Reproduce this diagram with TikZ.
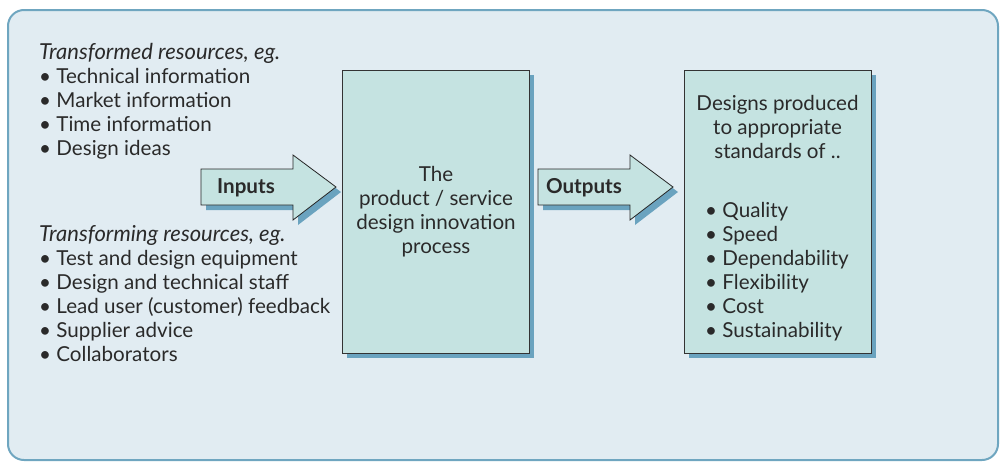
\documentclass[tikz,border=0pt]{standalone}
\usepackage{fontspec}
\setmainfont{Lato}
\definecolor{panelfill}{HTML}{E1ECF2}
\definecolor{panelline}{HTML}{6FA6C0}
\definecolor{boxfill}{HTML}{C5E3E1}
\definecolor{shadowc}{HTML}{6AA3BF}
\definecolor{txt}{HTML}{2A2A2A}
\newcommand{\headital}[1]{{\fontsize{22}{24}\selectfont\itshape #1}}
\begin{document}
\begin{tikzpicture}[x=1pt,y=-1pt,
  every node/.style={text=txt,font=\fontsize{20.6}{24}\selectfont,inner sep=0pt},
  procbox/.style={draw=black!80,line width=1pt,fill=boxfill,minimum width=187pt,minimum height=283pt,anchor=north west},
  shadowbox/.style={fill=shadowc,minimum width=187pt,minimum height=283pt,anchor=north west,draw=none},
  blockarrow/.style={draw=black!85,line width=0.8pt,fill=boxfill},
  arrowshadow/.style={fill=shadowc,draw=none},
  listtext/.style={align=left,anchor=base west},
  arrowlabel/.style={font=\fontsize{20.6}{24}\selectfont\bfseries}
]
\useasboundingbox (0,0) rectangle (1001,461);
% panel
\draw[fill=panelfill,draw=panelline,line width=2pt,rounded corners=16pt] (8,10) rectangle (998,460);

% shadows of boxes
\node[shadowbox] (procshadow) at (347,75) {};
\node[shadowbox] (outshadow) at (689,75) {};
% boxes
\node[procbox] (proc) at (342,70) {};
\node[procbox] (outbox) at (684,70) {};

% Inputs arrow
\fill[arrowshadow] (206,174) -- (298,174) -- (298,160) -- (341,192) -- (298,225) -- (298,210) -- (206,210) -- cycle;
\draw[blockarrow] (201,169) -- (293,169) -- (293,155) -- (336,187) -- (293,220) -- (293,205) -- (201,205) -- cycle;
\node[arrowlabel] (inputs) at (246,188) {Inputs};

% Outputs arrow
\fill[arrowshadow] (543,174) -- (635,174) -- (635,160) -- (678,192) -- (635,225) -- (635,210) -- (543,210) -- cycle;
\draw[blockarrow] (538,169) -- (630,169) -- (630,155) -- (673,187) -- (630,220) -- (630,205) -- (538,205) -- cycle;
\node[arrowlabel] (outputs) at (584,188) {Outputs};

% left texts (anchor = baseline of last line)
\node[listtext] (transformed) at (39,155) {\headital{Transformed resources, eg.}\\
• Technical information\\
• Market information\\
• Time information\\
• Design ideas};
\node[listtext] (transforming) at (39,361) {\headital{Transforming resources, eg.}\\
• Test and design equipment\\
• Design and technical staff\\
• Lead user (customer) feedback\\
• Supplier advice\\
• Collaborators};

% process text
\node[align=center] (proctext) at (proc.center) {The\\product / service\\design innovation\\process};

% output text
\node[align=center,anchor=base] (outhead) at (777.5,158) {Designs produced\\to appropriate\\standards of ..};
\node[listtext] (outlist) at (705,337) {• Quality\\
• Speed\\
• Dependability\\
• Flexibility\\
• Cost\\
• Sustainability};
\end{tikzpicture}
\end{document}
